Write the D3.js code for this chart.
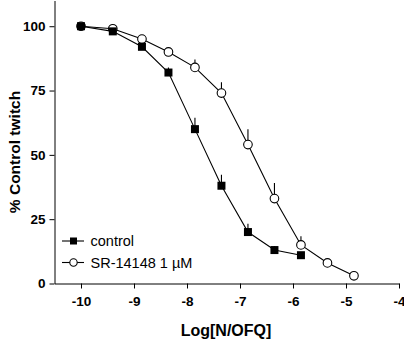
<!DOCTYPE html>
<html lang="en">
<head>
<meta charset="UTF-8">
<title>Log[N/OFQ] concentration-response</title>
<script src="https://d3js.org/d3.v7.min.js"></script>
<style>
  body { margin: 0; background: #fff; }
  svg { display: block; }
</style>
</head>
<body>
<svg width="404" height="341"></svg>
<script>
    // values
    const controlLog = [-10, -9.4, -8.85, -8.35, -7.85, -7.35, -6.85, -6.35, -5.85];
    const controlVal = [100, 98, 92, 82, 60, 38, 20, 13, 11];
    const controlErr = [0.5, 1, 1.5, 2, 4.4, 4.3, 3.2, 1.5, 1];

    const srLog = [-10, -9.4, -8.85, -8.35, -7.85, -7.35, -6.85, -6.35, -5.85, -5.35, -4.85];
    const srVal = [100, 99, 95, 90, 84, 74, 54, 33, 15, 8, 3];
    const srErr = [0.5, 1, 1.5, 1.5, 3.1, 4.2, 6, 6.1, 3.4, 1, 1];

    const xTicks = [-10, -9, -8, -7, -6, -5, -4];
    const yTicks = [0, 25, 50, 75, 100];
    const legendLabels = ["control", "SR-14148 1 \u00b5M"];

    const svg = d3.select("svg");
    const font = "Liberation Sans, Arial, sans-serif";

    const x = d3.scaleLinear().domain([-10.5, -4]).range([54.5, 399]);
    const y = d3.scaleLinear().domain([0, 110]).range([283.5, 0.5]);

    // axes, plain hyphen in the labels like the original
    const xAxis = svg.append("g")
        .attr("transform", "translate(0," + y(0) + ")")
        .call(d3.axisBottom(x).tickValues(xTicks).tickFormat(d => String(d))
            .tickSize(5).tickSizeOuter(0).tickPadding(8));
    const yAxis = svg.append("g")
        .attr("transform", "translate(" + x(-10.5) + ",0)")
        .call(d3.axisLeft(y).tickValues(yTicks).tickFormat(d => String(d))
            .tickSize(5).tickSizeOuter(0).tickPadding(4));

    [xAxis, yAxis].forEach(a => {
        a.selectAll("path, line").attr("stroke", "#000").attr("stroke-width", 1);
        a.selectAll("text")
            .attr("fill", "#000")
            .style("font-family", font)
            .style("font-size", "13.5px")
            .style("font-weight", "bold");
    });

    svg.append("text")
        .attr("x", 226)
        .attr("y", 336)
        .attr("text-anchor", "middle")
        .style("font-family", font)
        .style("font-size", "16px")
        .style("font-weight", "bold")
        .text("Log[N/OFQ]");

    svg.append("text")
        .attr("transform", "translate(20,152) rotate(-90)")
        .attr("text-anchor", "middle")
        .style("font-family", font)
        .style("font-size", "15.5px")
        .style("font-weight", "bold")
        .text("% Control twitch");

    const line = d3.line().x(d => x(d[0])).y(d => y(d[1]));

    function drawSeries(logs, vals, errs, kind) {
        const pts = logs.map((l, i) => [l, vals[i], errs[i]]);
        const g = svg.append("g");
        g.append("path")
            .datum(pts)
            .attr("d", line)
            .attr("fill", "none")
            .attr("stroke", "#000")
            .attr("stroke-width", 1.1);
        // upward error bars, no caps
        g.selectAll(".err").data(pts).enter().append("line")
            .attr("x1", d => x(d[0])).attr("x2", d => x(d[0]))
            .attr("y1", d => y(d[1])).attr("y2", d => y(d[1] + d[2]))
            .attr("stroke", "#000").attr("stroke-width", 1.1);
        if (kind === "square") {
            g.selectAll(".m").data(pts).enter().append("rect")
                .attr("x", d => x(d[0]) - 4).attr("y", d => y(d[1]) - 4)
                .attr("width", 8).attr("height", 8)
                .attr("fill", "#000");
        } else {
            g.selectAll(".m").data(pts).enter().append("circle")
                .attr("cx", d => x(d[0])).attr("cy", d => y(d[1]))
                .attr("r", 4.3)
                .attr("fill", "#fff").attr("stroke", "#000").attr("stroke-width", 1.1);
        }
    }

    drawSeries(srLog, srVal, srErr, "circle");
    drawSeries(controlLog, controlVal, controlErr, "square");

    // legend
    const legend = svg.append("g");
    legendLabels.forEach((lab, i) => {
        const ly = 241 + i * 21.5;
        legend.append("line")
            .attr("x1", 62).attr("x2", 84).attr("y1", ly).attr("y2", ly)
            .attr("stroke", "#000").attr("stroke-width", 1.1);
        if (i === 0) {
            legend.append("rect").attr("x", 70).attr("y", ly - 3.5)
                .attr("width", 7).attr("height", 7).attr("fill", "#000");
        } else {
            legend.append("circle").attr("cx", 73.5).attr("cy", ly).attr("r", 3.7)
                .attr("fill", "#fff").attr("stroke", "#000").attr("stroke-width", 1.1);
        }
        legend.append("text")
            .attr("x", 90.5).attr("y", ly + 5)
            .style("font-family", font)
            .style("font-size", "14.5px")
            .text(lab);
    });
</script>
</body>
</html>
